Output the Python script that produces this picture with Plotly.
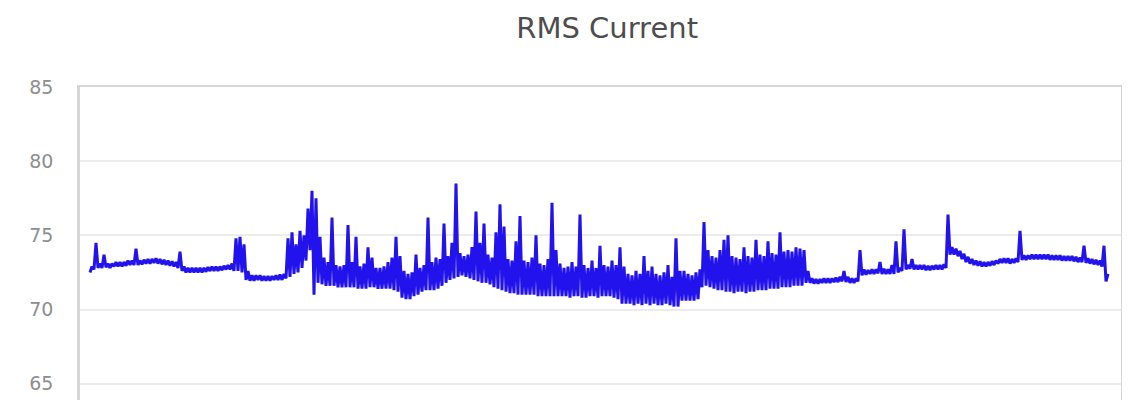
import plotly.graph_objects as go

TITLE = "RMS Current"
Y_TICKS = [65, 70, 75, 80, 85]

# Envelope of the RMS current trace, read column by column (low / high per column)
rms_low = [
    72.5, 72.7, 72.8, 72.8, 72.85, 72.8, 72.9, 72.9, 72.9, 72.95,
    73.0, 73.0, 73.0, 73.05, 73.1, 73.1, 73.15, 73.1, 73.05, 73.0,
    72.95, 72.9, 72.8, 72.6, 72.5, 72.5, 72.5, 72.5, 72.5, 72.55,
    72.6, 72.6, 72.6, 72.65, 72.7, 72.7, 72.6, 72.6, 72.5, 72.0,
    71.95, 71.95, 72.0, 71.95, 71.95, 71.95, 72.0, 72.0, 72.0, 72.1,
    72.2, 72.4, 72.5, 72.8, 73.3, 74.0, 71.0, 71.8, 71.7, 71.6,
    71.6, 71.6, 71.5, 71.5, 71.5, 71.5, 71.5, 71.4, 71.4, 71.4,
    71.5, 71.5, 71.4, 71.4, 71.4, 71.4, 71.3, 71.2, 70.8, 70.7,
    70.7, 70.9, 71.0, 71.2, 71.3, 71.3, 71.3, 71.4, 71.6, 71.8,
    72.0, 72.1, 72.2, 72.3, 72.2, 72.1, 72.0, 71.9, 71.8, 71.8,
    71.7, 71.5, 71.4, 71.3, 71.2, 71.1, 71.1, 71.0, 71.0, 71.0,
    71.0, 71.0, 70.9, 70.9, 70.9, 70.9, 70.9, 70.9, 70.9, 70.9,
    70.8, 70.9, 70.9, 70.8, 70.8, 70.9, 70.9, 70.8, 70.9, 70.9,
    70.9, 70.8, 70.7, 70.4, 70.4, 70.4, 70.3, 70.4, 70.3, 70.4,
    70.3, 70.4, 70.3, 70.3, 70.4, 70.3, 70.2, 70.2, 70.6, 70.6,
    70.6, 70.6, 70.7, 71.5, 71.6, 71.5, 71.4, 71.3, 71.3, 71.2,
    71.2, 71.1, 71.2, 71.2, 71.1, 71.2, 71.2, 71.3, 71.3, 71.3,
    71.4, 71.4, 71.4, 71.5, 71.5, 71.5, 71.6, 71.6, 71.6, 71.8,
    71.8, 71.75, 71.75, 71.8, 71.8, 71.8, 71.85, 71.85, 71.9, 71.85,
    71.8, 71.8, 71.9, 72.3, 72.35, 72.4, 72.4, 72.45, 72.4, 72.4,
    72.4, 72.4, 72.5, 72.6, 72.7, 72.75, 72.7, 72.7, 72.7, 72.65,
    72.65, 72.7, 72.7, 72.7, 72.8, 73.7, 73.7, 73.6, 73.4, 73.2,
    73.1, 73.0, 72.95, 72.9, 72.9, 72.95, 73.0, 73.1, 73.15, 73.15,
    73.1, 73.15, 73.2, 73.35, 73.35, 73.4, 73.4, 73.4, 73.4, 73.4,
    73.35, 73.35, 73.35, 73.3, 73.3, 73.3, 73.25, 73.2, 73.2, 73.15,
    73.1, 73.05, 73.0, 72.9, 71.9,
]
rms_high = [
    72.9, 74.5, 73.1, 73.7, 73.1, 73.1, 73.2, 73.2, 73.2, 73.3,
    73.3, 74.1, 73.3, 73.35, 73.4, 73.4, 73.45, 73.4, 73.35, 73.3,
    73.25, 73.2, 73.9, 72.9, 72.8, 72.8, 72.8, 72.8, 72.8, 72.85,
    72.9, 72.9, 72.9, 72.95, 73.0, 73.1, 74.8, 74.9, 74.4, 72.6,
    72.3, 72.3, 72.3, 72.25, 72.25, 72.25, 72.3, 72.35, 72.4, 74.8,
    75.2, 74.4, 75.3, 75.0, 76.8, 78.0, 77.5, 74.9, 73.5, 73.2,
    76.2, 73.0, 72.9, 73.0, 75.7, 73.2, 74.9, 72.9, 73.1, 74.2,
    73.5, 72.8, 72.8, 72.9, 73.2, 73.5, 74.9, 73.6, 72.6, 72.4,
    72.5, 73.7, 72.8, 73.0, 76.2, 73.2, 73.5, 73.4, 75.8, 73.6,
    74.5, 78.5, 73.8, 73.6, 73.7, 74.2, 76.6, 74.5, 75.8, 73.7,
    73.5, 75.2, 77.1, 75.6, 73.4, 73.3, 74.6, 76.3, 73.3, 73.2,
    73.5, 75.0, 73.1, 73.0, 73.4, 77.2, 74.0, 73.1, 72.8, 72.9,
    73.2, 72.9, 76.4, 73.0, 72.8, 73.3, 72.8, 74.3, 73.0, 72.9,
    73.3, 73.0, 74.2, 72.9, 72.4, 72.3, 72.6, 72.4, 73.6, 72.6,
    72.9, 72.4, 72.3, 72.5, 73.0, 72.2, 74.8, 72.6, 72.6, 72.4,
    72.3, 72.5, 72.7, 75.9, 74.0, 73.6, 73.5, 74.0, 74.7, 75.0,
    73.6, 73.5, 73.4, 74.2, 73.6, 73.5, 74.7, 73.7, 73.6, 74.6,
    73.8, 73.7, 75.2, 73.9, 74.0, 73.9, 74.2, 74.1, 74.0, 72.6,
    72.1, 72.05, 72.05, 72.1, 72.1, 72.1, 72.15, 72.2, 72.6, 72.2,
    72.1, 72.1, 74.0, 72.7, 72.65, 72.7, 72.7, 73.2, 72.75, 72.7,
    73.0, 74.6, 72.8, 75.4, 73.0, 73.4, 73.0, 73.0, 73.0, 72.95,
    72.95, 73.0, 73.0, 73.05, 76.4, 74.2, 74.1, 73.95, 73.75, 73.55,
    73.4, 73.3, 73.25, 73.2, 73.2, 73.25, 73.3, 73.4, 73.45, 73.45,
    73.4, 73.45, 75.3, 73.65, 73.65, 73.7, 73.7, 73.7, 73.7, 73.7,
    73.65, 73.65, 73.65, 73.6, 73.6, 73.6, 73.55, 73.5, 74.3, 73.45,
    73.4, 73.35, 73.3, 74.3, 72.4,
]

# Interleave low/high samples into one continuous trace
values = []
for lo, hi in zip(rms_low, rms_high):
    values.append(lo)
    values.append(hi)
samples = list(range(len(values)))

fig = go.Figure()
fig.add_trace(go.Scatter(
    x=samples, y=values, mode="lines",
    line=dict(color="rgb(34,18,236)", width=3),
    hoverinfo="skip", showlegend=False,
))

# page has an 8px body margin, so the figure is sized to fill the rest
fig.update_layout(
    width=1122, height=392,
    margin=dict(l=72, r=9, t=79, b=0, pad=0),
    paper_bgcolor="white", plot_bgcolor="white",
    title=dict(text=TITLE, x=0.534, xanchor="center", y=0.95, yanchor="middle",
               font=dict(family="DejaVu Sans", size=29, color="#4d4d4d")),
    font=dict(family="DejaVu Sans", color="#8e8e8e"),
)
fig.update_xaxes(
    range=[-5, len(values) + 5.5], side="top",
    showgrid=False, zeroline=False, showticklabels=False, ticks="",
    showline=True, linecolor="#d6d6d6", linewidth=2,
)
fig.update_yaxes(
    range=[63.9, 85], tickvals=Y_TICKS, ticktext=[str(t) for t in Y_TICKS],
    showgrid=True, gridcolor="#ececec", gridwidth=1.5, zeroline=False,
    showline=True, mirror=True, linecolor="#d6d6d6", linewidth=2.5,
    ticks="outside", ticklen=20, tickcolor="rgba(0,0,0,0)",
    tickfont=dict(size=19, color="#8e8e8e"),
)

fig.write_html("out.html")
